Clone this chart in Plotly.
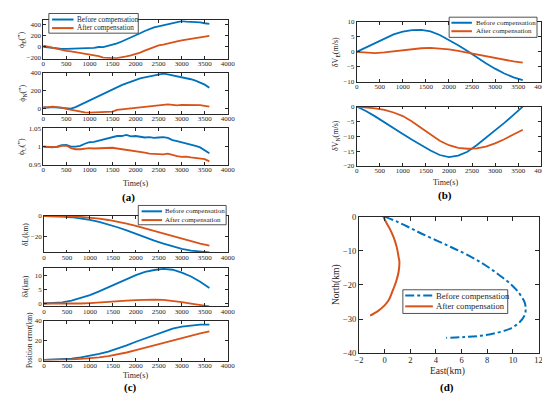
import plotly.graph_objects as go

# ---------------- data ----------------
t100 = list(range(0, 3700, 100))
t200 = list(range(0, 3800, 200))

phiE_before = [0, -10, -25, -35, -40, -38, -35, -33, -30, -32, -28, -20, -5, -8, 15, 35, 60, 95, 130, 170, 205,
               245, 285, 320, 350, 370, 390, 405, 420, 440, 462, 455, 452, 445, 440, 425, 412]
phiE_after = [20, 0, -20, -40, -60, -75, -85, -100, -110, -120, -132, -150, -170, -195, -203, -208, -205, -195,
              -175, -155, -135, -105, -70, -35, 0, 25, 40, 55, 75, 95, 115, 130, 140, 150, 165, 185, 195]
phiN_before = [20, 15, 20, 15, 10, 5, 5, 20, 45, 70, 95, 115, 140, 165, 190, 215, 240, 265, 285, 305, 325,
               340, 350, 360, 375, 385, 392, 385, 375, 365, 355, 345, 330, 315, 295, 270, 235]
phiN_after = [15, 20, 25, 20, 15, 0, -10, -25, -35, -38, -40, -38, -40, -42, -40, -30, -10, -5, 0, 5, 10,
              15, 20, 25, 35, 40, 45, 50, 45, 40, 45, 45, 40, 45, 42, 35, 25]
phiU_before = [1.0, 0.999, 0.998, 1.0, 1.004, 1.005, 1.0, 1.0, 1.002, 1.008, 1.012, 1.013, 1.016, 1.018, 1.022,
               1.026, 1.029, 1.029, 1.032, 1.028, 1.029, 1.027, 1.025, 1.026, 1.024, 1.025, 1.026, 1.024, 1.018,
               1.015, 1.012, 1.010, 1.005, 1.002, 0.998, 0.990, 0.982]
phiU_after = [1.0, 0.999, 0.998, 0.999, 1.002, 1.003, 0.996, 0.993, 0.993, 0.995, 0.996, 0.995, 0.996, 0.996,
              0.997, 0.997, 0.995, 0.993, 0.993, 0.990, 0.988, 0.985, 0.984, 0.981, 0.980, 0.978, 0.979, 0.981,
              0.977, 0.974, 0.972, 0.973, 0.971, 0.970, 0.969, 0.966, 0.960]

dVE_before = [0, 1.5, 3, 4.5, 5.8, 6.7, 7.2, 7.3, 6.8, 5.6, 4, 2.2, 0.3, -1.8, -3.8, -5.6, -7.2, -8.5, -9.4]
dVE_after = [0, -0.2, -0.4, -0.2, 0.2, 0.6, 1.0, 1.2, 1.3, 1.1, 0.8, 0.3, -0.3, -0.9, -1.5, -2.1, -2.7, -3.2, -3.6]
dVN_before = [0, -1.5, -3.3, -5.2, -7.2, -9.2, -11.2, -13, -14.8, -16.3, -17, -16.5, -15.2, -13.0, -10.6,
              -8.2, -5.5, -2.8, 0]
dVN_after = [0, -0.2, -0.6, -1.1, -2, -3.2, -5, -7.2, -9.5, -11.5, -13, -13.9, -14.2, -14.1, -13.5, -12.4,
             -11, -9.5, -7.8]

dL_before = [0, -0.1, -0.5, -1.2, -2.3, -3.8, -5.8, -8.2, -11, -14, -17.5, -20.8, -24, -27, -29.8, -32, -33.8,
             -35, -35.5]
dL_after = [0, 0, -0.1, -0.4, -0.9, -1.6, -2.6, -3.9, -5.5, -7.5, -9.7, -12.2, -14.8, -17.4, -20, -22.5, -24.8,
            -27, -29]
dlam_before = [0, 0.1, 0.4, 1, 1.9, 3, 4.3, 5.8, 7.3, 8.8, 10.1, 11.2, 11.9, 12.3, 12.0, 11.0, 9.6, 7.7, 5.5]
dlam_after = [0, -0.05, -0.1, -0.05, 0, 0.15, 0.3, 0.55, 0.8, 1.0, 1.2, 1.35, 1.4, 1.3, 1.0, 0.5, 0, -0.5, -1]
perr_before = [0, 0.2, 0.6, 1.3, 2.5, 4, 6, 8.5, 11.5, 14.8, 18.5, 22, 25.5, 28.8, 31.8, 34, 35.3, 35.9, 36]
perr_after = [0, 0, 0.1, 0.4, 0.9, 1.6, 2.6, 3.9, 5.5, 7.5, 9.8, 12.3, 14.9, 17.5, 20, 22.5, 24.8, 27, 29]

east_before = [0, 1, 2, 2.9, 4, 5, 5.8, 7, 8, 9, 9.9, 10.5, 10.9, 11, 10.9, 10.5, 9.8, 8.8, 7.5, 6.2, 4.8]
north_before = [0, -1.5, -3.3, -5, -6.9, -8.6, -10, -12.3, -14.6, -17.3, -20, -22.5, -25, -27, -29, -31,
                -32.8, -34, -34.9, -35.3, -35.5]
east_after = [-0.1, 0.1, 0.4, 0.7, 0.95, 1.1, 1.15, 1.1, 0.9, 0.6, 0.3, 0, -0.5, -1.13]
north_after = [0, -1.5, -3.5, -6, -9, -12, -13, -16, -19, -22, -24.6, -26, -27.6, -29]

time_ticks = [0, 500, 1000, 1500, 2000, 2500, 3000, 3500, 4000]
BLUE = "#0072BD"
ORANGE = "#D95319"
INK = "#262626"
FONT = "Liberation Serif"
W, H = 550, 393


def px(x):
    return x / W


def py(y):
    return 1 - y / H


fig = go.Figure()


def axstyle(size=7, tl=3, **kw):
    d = dict(showline=True, linecolor=INK, linewidth=0.8, mirror="ticks", ticks="inside", ticklen=tl,
             tickwidth=0.8, tickcolor=INK, showgrid=False, zeroline=False,
             tickfont=dict(family=FONT, size=size, color=INK))
    d.update(kw)
    return d


panels = [
    ((31, 220), (7.5, 47), [-218, 478], [-200, 0, 200, 400], t100, phiE_before, phiE_after),
    ((31, 220), (61.5, 103.3), [-52, 400], [0, 200, 400], t100, phiN_before, phiN_after),
    ((31, 220), (118.3, 156), [0.95, 1.05], [0.95, 1, 1.05], t100, phiU_before, phiU_after),
    ((352, 541), (9, 70.7), [-10, 10], [-10, -5, 0, 5, 10], t200, dVE_before, dVE_after),
    ((352, 541), (96, 157), [-20, 0], [-20, -15, -10, -5, 0], t200, dVN_before, dVN_after),
    ((31.7, 220), (208.3, 245.7), [-35.6, 0], [-20, 0], t200, dL_before, dL_after),
    ((31.7, 220), (261.7, 301), [-1.0, 12.6], [0, 5, 10], t200, dlam_before, dlam_after),
    ((31.7, 220), (315.7, 356.7), [-0.8, 40], [0, 20, 40], t200, perr_before, perr_after),
]

layout_axes = {}
for i, (xd, yd, yr, yt, tt, yb, ya) in enumerate(panels, start=1):
    sfx = "" if i == 1 else str(i)
    fig.add_trace(go.Scatter(x=tt, y=yb, mode="lines", line=dict(color=BLUE, width=1.8), xaxis="x" + sfx,
                             yaxis="y" + sfx, showlegend=False))
    fig.add_trace(go.Scatter(x=tt, y=ya, mode="lines", line=dict(color=ORANGE, width=1.8), xaxis="x" + sfx,
                             yaxis="y" + sfx, showlegend=False))
    layout_axes["xaxis" + sfx] = axstyle(domain=[px(xd[0]), px(xd[1])], range=[0, 4000], tickvals=time_ticks,
                                         anchor="y" + sfx, ticklabelstandoff=-2)
    layout_axes["yaxis" + sfx] = axstyle(domain=[py(yd[1]), py(yd[0])], range=yr, tickvals=yt,
                                         anchor="x" + sfx)

# panel (d)
fig.add_trace(go.Scatter(x=east_before, y=north_before, mode="lines", line=dict(color=BLUE, width=2, dash="dashdot"),
                         xaxis="x9", yaxis="y9", showlegend=False, line_shape="spline"))
fig.add_trace(go.Scatter(x=east_after, y=north_after, mode="lines", line=dict(color=ORANGE, width=2),
                         xaxis="x9", yaxis="y9", showlegend=False, line_shape="spline"))
layout_axes["xaxis9"] = axstyle(size=8.5, tl=4, domain=[px(354.3), px(538.3)], range=[-2, 12],
                                tickvals=[-2, 0, 2, 4, 6, 8, 10, 12], anchor="y9", ticklabelstandoff=-1)
layout_axes["yaxis9"] = axstyle(size=8.5, tl=4, domain=[py(349), py(209)], range=[-40, 0],
                                tickvals=[-40, -30, -20, -10, 0], anchor="x9")

fig.update_layout(width=W, height=H, margin=dict(l=0, r=0, t=0, b=0), plot_bgcolor="white",
                  paper_bgcolor="white", font=dict(family=FONT, color=INK), **layout_axes)

ann = []


def text(x, y, s, size=8, angle=0, bold=False, xanchor="center"):
    if bold:
        s = "<b>" + s + "</b>"
    ann.append(dict(x=px(x), y=py(y), xref="paper", yref="paper", text=s, showarrow=False, textangle=angle,
                    font=dict(family=FONT, size=size, color="#000000" if bold else INK), xanchor=xanchor,
                    yanchor="middle"))


# axis titles
text(10, 27, "ϕ<sub>E</sub>(″)", 8, -90)
text(10, 82, "ϕ<sub>N</sub>(″)", 8, -90)
text(9, 137, "ϕ<sub>U</sub>(″)", 8, -90)
text(125, 174.5, "Time(s)", 8)
text(118, 189, "(a)", 11, bold=True)
text(331, 40, "δV<sub>E</sub>(m/s)", 8, -90)
text(331, 126, "δV<sub>N</sub>(m/s)", 8, -90)
text(443, 173.5, "Time(s)", 8)
text(442, 187, "(b)", 11, bold=True)
text(13, 227, "δL(km)", 7.5, -90)
text(13, 281, "δλ(km)", 7.5, -90)
text(17, 336, "Position error(km)", 7.5, -90)
text(125, 372, "Time(s)", 8)
text(120, 384.5, "(c)", 11, bold=True)
text(332, 279, "North(km)", 9.5, -90)
text(445, 368, "East(km)", 9.5)
text(445, 384.5, "(d)", 11, bold=True)

shapes = []


def legend(box, rows, line_x, text_x, size, dash_blue="solid"):
    x0, y0, x1, y1 = box
    shapes.append(dict(type="rect", xref="paper", yref="paper", x0=px(x0), y0=py(y1), x1=px(x1), y1=py(y0),
                       line=dict(color=INK, width=0.8), fillcolor="white", layer="above"))
    for (yy, col, lab, dash) in [(rows[0], BLUE, "Before compensation", dash_blue),
                                 (rows[1], ORANGE, "After compensation", "solid")]:
        shapes.append(dict(type="line", xref="paper", yref="paper", x0=px(line_x[0]), x1=px(line_x[1]),
                           y0=py(yy), y1=py(yy), line=dict(color=col, width=2, dash=dash), layer="above"))
        text(text_x, yy, lab, size, xanchor="left")


legend((36.7, 0.5, 128.3, 20.7), (6.7, 15.5), (40, 62), 63.5, 7.2)
legend((446.7, 4.3, 536.7, 25), (10, 18.7), (449, 470), 472.5, 7.0)
legend((128.3, 197.5, 218.3, 217.3), (203.5, 212.5), (131.7, 152.7), 154, 7.0)
legend((399.3, 284, 506.7, 308.3), (290, 301), (401.7, 430), 431.5, 8.6, "dashdot")

fig.update_layout(annotations=ann, shapes=shapes)
fig.write_html("out.html")
